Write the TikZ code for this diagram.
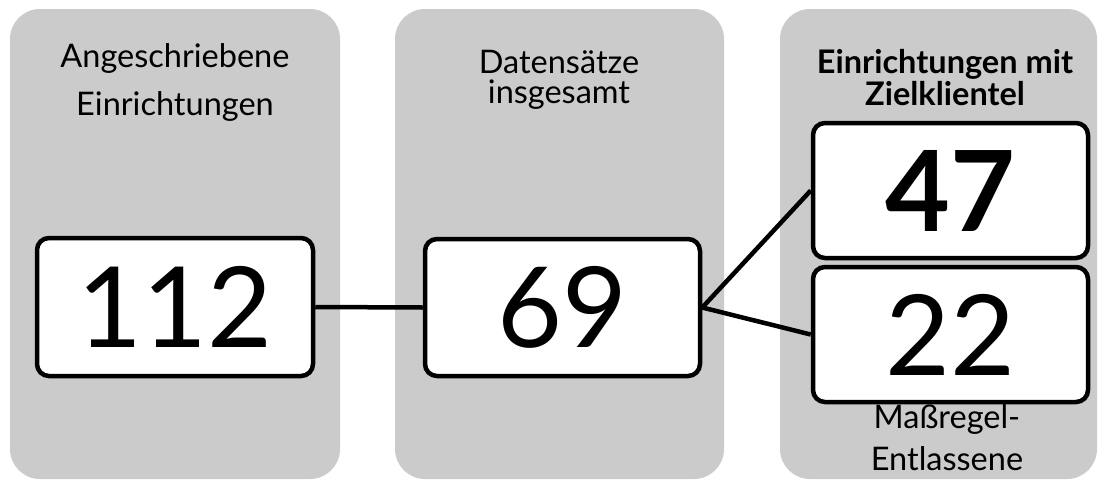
\documentclass[tikz,border=0pt]{standalone}
\usepackage{fontspec}
\setmainfont{Lato}
\definecolor{panelgray}{RGB}{203,203,203}
\begin{document}
\begin{tikzpicture}[x=1pt,y=-1pt,
  panel/.style={fill=panelgray, draw=none, rounded corners=30pt},
  numbox/.style={draw=black, fill=white, line width=4.5pt, rounded corners=12pt, rectangle, inner sep=0pt},
  lbl/.style={anchor=base, inner sep=0pt, font=\fontsize{32.5}{38}\selectfont},
  lblb/.style={anchor=base, inner sep=0pt, font=\fontsize{32.5}{38}\bfseries},
  conn/.style={draw=black, line width=4.5pt}]
\useasboundingbox (0,0) rectangle (1098,480);
% panels
\fill[panel] (10,9) rectangle (340,479);
\fill[panel] (395,9) rectangle (724,479);
\fill[panel] (780,9) rectangle (1097,479);
% panel labels
\node[lbl] (l1a) at (175,67) {Angeschriebene};
\node[lbl] (l1b) at (175,115) {Einrichtungen};
\node[lbl] (l2a) at (559,73) {Datensätze};
\node[lbl] (l2b) at (559,103) {insgesamt};
\node[lblb] (l3a) at (945,73) {Einrichtungen mit};
\node[lblb] (l3b) at (945,105) {Zielklientel};
\node[lbl] (l3c) at (947,428) {Maßregel-};
\node[lbl] (l3d) at (947,470) {Entlassene};
% number boxes
\node[numbox, minimum width=276pt, minimum height=138pt, font=\fontsize{112}{120}\selectfont] (b112) at (175,307) {112};
\node[numbox, minimum width=275pt, minimum height=137pt, font=\fontsize{112}{120}\selectfont] (b69) at (562.5,307.5) {69};
\node[numbox, minimum width=275pt, minimum height=135pt, font=\fontsize{112}{120}\bfseries] (b47) at (950.5,190.5) {47};
\node[numbox, minimum width=275pt, minimum height=135pt, font=\fontsize{112}{120}\selectfont] (b22) at (950.5,334.5) {22};
% connectors
\draw[conn] (b112.east) -- (b69.west);
\draw[conn] (b69.east) -- (b47.west);
\draw[conn] (b69.east) -- (b22.west);
\end{tikzpicture}
\end{document}
